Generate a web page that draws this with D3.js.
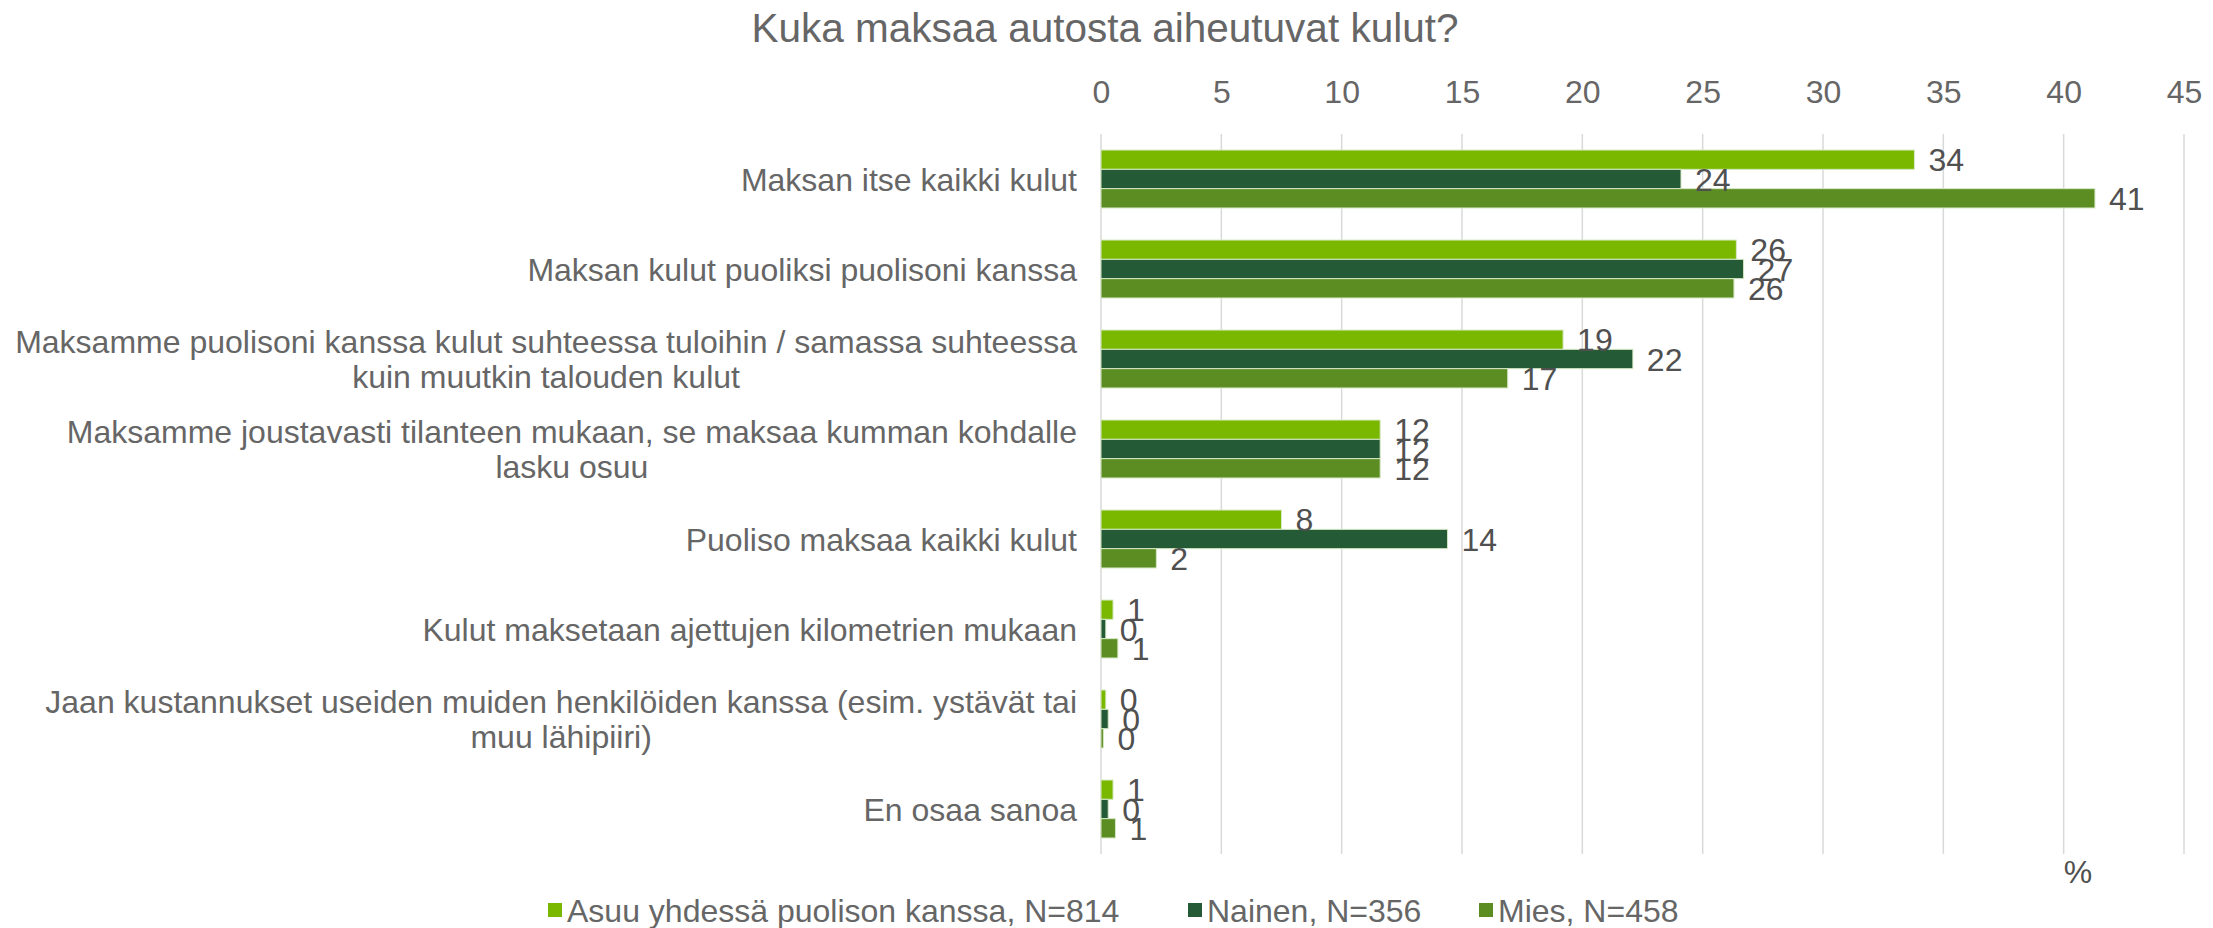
<!DOCTYPE html>
<html>
<head>
<meta charset="utf-8">
<script src="https://cdn.jsdelivr.net/npm/d3@7"></script>
<style>
  body { margin: 0; background: #fff; }
  text { font-family: "Liberation Sans", Arial, sans-serif; }
</style>
</head>
<body>
<svg id="chart" width="2213" height="928"></svg>
<script>
var categories = [
  "Maksan itse kaikki kulut",
  "Maksan kulut puoliksi puolisoni kanssa",
  "Maksamme puolisoni kanssa kulut suhteessa tuloihin / samassa suhteessa\nkuin muutkin talouden kulut",
  "Maksamme joustavasti tilanteen mukaan, se maksaa kumman kohdalle\nlasku osuu",
  "Puoliso maksaa kaikki kulut",
  "Kulut maksetaan ajettujen kilometrien mukaan",
  "Jaan kustannukset useiden muiden henkilöiden kanssa (esim. ystävät tai\nmuu lähipiiri)",
  "En osaa sanoa"
];
var seriesNames = ["Asuu yhdessä puolison kanssa, N=814", "Nainen, N=356", "Mies, N=458"];
var asuu   = [33.8, 26.4, 19.2, 11.6, 7.5, 0.5, 0.2, 0.5];
var nainen = [24.1, 26.7, 22.1, 11.6, 14.4, 0.2, 0.3, 0.3];
var mies   = [41.3, 26.3, 16.9, 11.6, 2.3, 0.7, 0.1, 0.6];
var xTicks = [0, 5, 10, 15, 20, 25, 30, 35, 40, 45];

var colors = ["#7ab800", "#255a36", "#5b8d23"];
var series = [asuu, nainen, mies];
var textGray = "#666666";

var svg = d3.select("#chart");
var plotLeft = 1101, plotRight = 2184, plotTop = 134, plotBottom = 854;

var x = d3.scaleLinear().domain([0, 45]).range([plotLeft, plotRight]);
var y0 = d3.scaleBand().domain(d3.range(categories.length)).range([plotTop, plotBottom])
  .paddingInner(0.356).paddingOuter(0.178);
var y1 = d3.scaleBand().domain(d3.range(series.length)).range([0, y0.bandwidth()]);

// title
svg.append("text")
  .attr("x", 1105).attr("y", 42)
  .attr("text-anchor", "middle")
  .attr("font-size", 40.5)
  .attr("fill", textGray)
  .text("Kuka maksaa autosta aiheutuvat kulut?");

// gridlines
svg.append("g").selectAll("line")
  .data(xTicks).enter().append("line")
  .attr("x1", d => x(d)).attr("x2", d => x(d))
  .attr("y1", plotTop).attr("y2", plotBottom)
  .attr("stroke", "#d9d9d9").attr("stroke-width", 1.5);

// top axis labels
var xAxis = svg.append("g")
  .attr("transform", "translate(0,103)")
  .call(d3.axisTop(x).tickValues(xTicks).tickSize(0).tickPadding(0));
xAxis.select(".domain").remove();
xAxis.selectAll("text")
  .attr("font-size", 32)
  .attr("font-family", "Liberation Sans, Arial, sans-serif")
  .attr("fill", textGray)
  .attr("dy", 0);

// bars
var groups = svg.append("g").selectAll("g")
  .data(categories).enter().append("g")
  .attr("transform", (d, i) => "translate(0," + y0(i) + ")");

groups.each(function(c, i) {
  var g = d3.select(this);
  series.forEach(function(s, j) {
    g.append("rect")
      .attr("x", x(0))
      .attr("y", y1(j))
      .attr("width", x(s[i]) - x(0))
      .attr("height", y1.bandwidth())
      .attr("fill", colors[j])
      .attr("stroke", "#d6e8c4").attr("stroke-width", 1);
  });
  series.forEach(function(s, j) {
    g.append("text")
      .attr("x", x(s[i]) + 14)
      .attr("y", y1(j) + y1.bandwidth() / 2)
      .attr("dy", "0.36em")
      .attr("font-size", 32)
      .attr("fill", "#505050")
      .text(Math.round(s[i]));
  });
});

// category labels, lines centred inside a right-aligned block
var labelRight = 1077, lineH = 35;
categories.forEach(function(c, i) {
  var lines = c.split("\n");
  var cy = y0(i) + y0.bandwidth() / 2;
  var t = svg.append("text")
    .attr("font-size", 32)
    .attr("fill", textGray)
    .attr("text-anchor", "middle");
  var spans = lines.map(function(l, k) {
    return t.append("tspan")
      .attr("y", cy + (k - (lines.length - 1) / 2) * lineH)
      .attr("dy", "0.36em")
      .text(l);
  });
  var w = d3.max(spans, s => s.node().getComputedTextLength());
  spans.forEach(s => s.attr("x", labelRight - w / 2));
});

// % unit
svg.append("text")
  .attr("x", 2078).attr("y", 871).attr("dy", "0.36em")
  .attr("text-anchor", "middle")
  .attr("font-size", 32).attr("fill", "#505050")
  .text("%");

// legend
var legendX = [548, 1188, 1479];
var legend = svg.append("g").selectAll("g")
  .data(seriesNames).enter().append("g")
  .attr("transform", (d, i) => "translate(" + legendX[i] + ",910)");
legend.append("rect")
  .attr("x", 0).attr("y", -7).attr("width", 14).attr("height", 14)
  .attr("fill", (d, i) => colors[i]);
legend.append("text")
  .attr("x", 19).attr("dy", "0.36em")
  .attr("font-size", 32).attr("fill", textGray)
  .text(d => d);
</script>
</body>
</html>
